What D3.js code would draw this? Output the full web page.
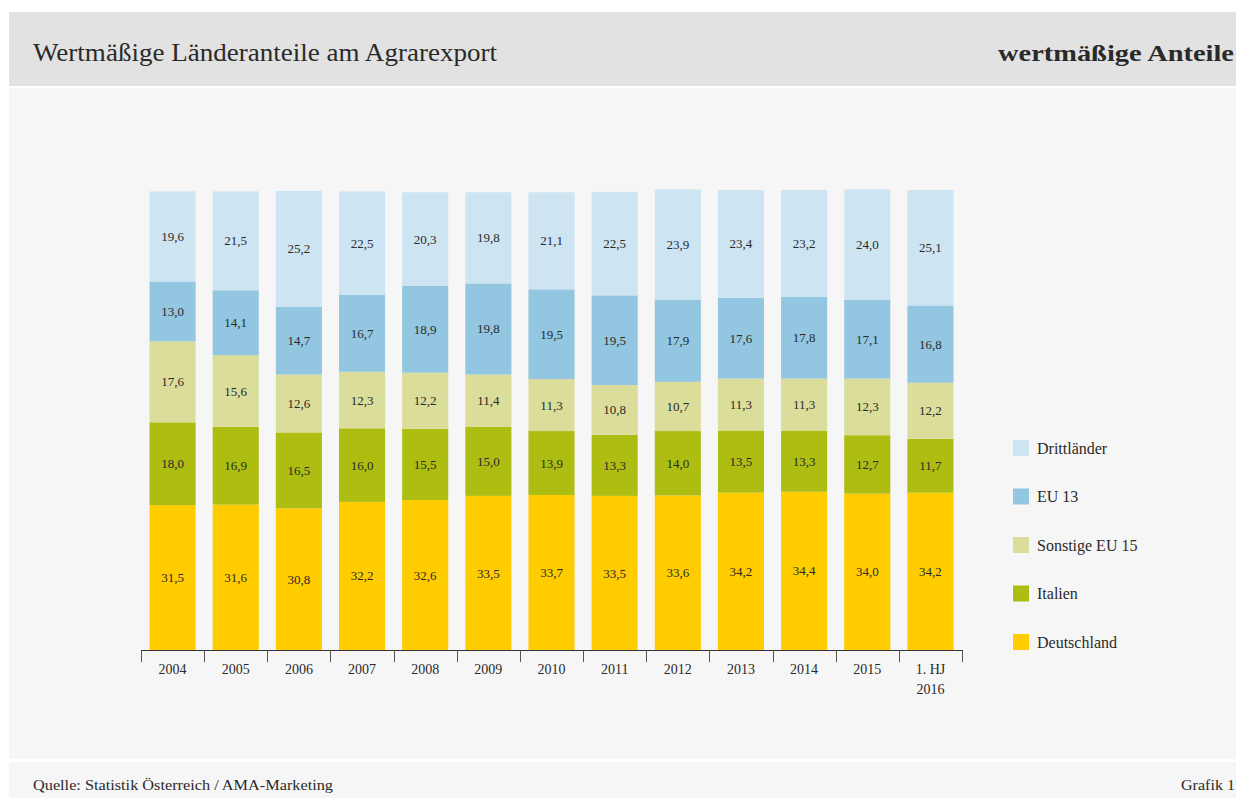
<!DOCTYPE html>
<html>
<head>
<meta charset="utf-8">
<script src="https://cdn.jsdelivr.net/npm/d3@7"></script>
<style>
  html, body { margin: 0; padding: 0; background: #ffffff; overflow: hidden; }
  svg { display: block; }
  text { font-family: "Liberation Serif", "DejaVu Serif", serif; fill: #2a2a2a; }
</style>
</head>
<body>
<svg id="chart" width="1236" height="798"></svg>
<script>
// Export shares by destination, in percent of agricultural export value
const years = ["2004", "2005", "2006", "2007", "2008", "2009", "2010", "2011", "2012", "2013", "2014", "2015", "1. HJ|2016"];
const seriesNames = ["Deutschland", "Italien", "Sonstige EU 15", "EU 13", "Drittländer"];
const deutschland = [31.5, 31.6, 30.8, 32.2, 32.6, 33.5, 33.7, 33.5, 33.6, 34.2, 34.4, 34.0, 34.2];
const italien     = [18.0, 16.9, 16.5, 16.0, 15.5, 15.0, 13.9, 13.3, 14.0, 13.5, 13.3, 12.7, 11.7];
const sonstigeEU15 = [17.6, 15.6, 12.6, 12.3, 12.2, 11.4, 11.3, 10.8, 10.7, 11.3, 11.3, 12.3, 12.2];
const eu13        = [13.0, 14.1, 14.7, 16.7, 18.9, 19.8, 19.5, 19.5, 17.9, 17.6, 17.8, 17.1, 16.8];
const drittlaender = [19.6, 21.5, 25.2, 22.5, 20.3, 19.8, 21.1, 22.5, 23.9, 23.4, 23.2, 24.0, 25.1];
const seriesColors = ["#ffcc00", "#adbd12", "#dbdd9b", "#92c6e1", "#cde4f2"];

const seriesValues = [deutschland, italien, sonstigeEU15, eu13, drittlaender];
const table = years.map((y, i) => {
  const row = { year: y };
  seriesNames.forEach((s, k) => { row[s] = seriesValues[k][i]; });
  return row;
});

const svg = d3.select("#chart");

// Panels: header, plot area, footer
svg.append("rect").attr("x", 9).attr("y", 12).attr("width", 1236).attr("height", 74).attr("fill", "#e2e2e2");
svg.append("rect").attr("x", 9).attr("y", 88).attr("width", 1236).attr("height", 671).attr("fill", "#f6f6f6");
svg.append("rect").attr("x", 9).attr("y", 762).attr("width", 1236).attr("height", 40).attr("fill", "#f6f6f6");

svg.append("text").attr("x", 33).attr("y", 61)
  .attr("font-size", 25).attr("textLength", 464).attr("lengthAdjust", "spacingAndGlyphs")
  .text("Wertmäßige Länderanteile am Agrarexport");
svg.append("text").attr("x", 998).attr("y", 61)
  .attr("font-size", 23).attr("font-weight", "bold").attr("textLength", 236).attr("lengthAdjust", "spacingAndGlyphs")
  .text("wertmäßige Anteile");

svg.append("text").attr("x", 33).attr("y", 790)
  .attr("font-size", 14).attr("textLength", 300).attr("lengthAdjust", "spacingAndGlyphs")
  .text("Quelle: Statistik Österreich / AMA-Marketing");
svg.append("text").attr("x", 1181).attr("y", 790)
  .attr("font-size", 14).attr("textLength", 62).attr("lengthAdjust", "spacingAndGlyphs")
  .text("Grafik 17");

// Scales
const x = d3.scaleBand().domain(years).range([141, 962]).paddingInner(0.27).paddingOuter(0.135);
const y = d3.scaleLinear().domain([0, 100]).range([650, 190]);
const color = d3.scaleOrdinal().domain(seriesNames).range(seriesColors);

const stacked = d3.stack().keys(seriesNames)(table);

const fmt = v => d3.format(".1f")(v).replace(".", ",");

const layers = svg.append("g").selectAll("g").data(stacked).join("g")
  .attr("fill", d => color(d.key));

layers.selectAll("rect").data(d => d).join("rect")
  .attr("x", d => x(d.data.year))
  .attr("y", d => y(d[1]))
  .attr("width", x.bandwidth())
  .attr("height", d => y(d[0]) - y(d[1]));

// Value labels centred in each segment
layers.selectAll("text").data(d => d.map(p => ({ p, key: d.key }))).join("text")
  .attr("x", d => x(d.p.data.year) + x.bandwidth() / 2)
  .attr("y", d => (y(d.p[0]) + y(d.p[1])) / 2)
  .attr("dy", "0.35em")
  .attr("text-anchor", "middle")
  .attr("font-size", 13)
  .style("fill", "#2a2a2a")
  .text(d => fmt(d.p.data[d.key]));

// X axis with ticks at the band boundaries
const axisG = svg.append("g");
axisG.append("line").attr("x1", 141).attr("x2", 962).attr("y1", 650.5).attr("y2", 650.5)
  .attr("stroke", "#333").attr("stroke-width", 1);
const boundaries = d3.range(years.length + 1).map(i => x.range()[0] + i * x.step());
axisG.selectAll("line.tick").data(boundaries).join("line").attr("class", "tick")
  .attr("x1", d => Math.round(d) + 0.5).attr("x2", d => Math.round(d) + 0.5)
  .attr("y1", 650).attr("y2", 662)
  .attr("stroke", "#555").attr("stroke-width", 1);

axisG.selectAll("text.yl").data(years).join("text").attr("class", "yl")
  .attr("x", d => x(d) + x.bandwidth() / 2)
  .attr("y", 674)
  .attr("text-anchor", "middle")
  .attr("font-size", 14)
  .each(function (d) {
    const parts = d.split("|");
    d3.select(this).selectAll("tspan").data(parts).join("tspan")
      .attr("x", x(d) + x.bandwidth() / 2)
      .attr("dy", (p, i) => i === 0 ? 0 : 20)
      .text(p => p);
  });

// Legend, top entry is the top of the stack
const legendItems = seriesNames.slice().reverse();
const lg = svg.append("g").selectAll("g").data(legendItems).join("g")
  .attr("transform", (d, i) => `translate(1013, ${440 + i * 48.5})`);
lg.append("rect").attr("width", 16).attr("height", 16).attr("fill", d => color(d));
lg.append("text").attr("x", 24).attr("y", 8).attr("dy", "0.35em").attr("font-size", 16).text(d => d);
</script>
</body>
</html>
